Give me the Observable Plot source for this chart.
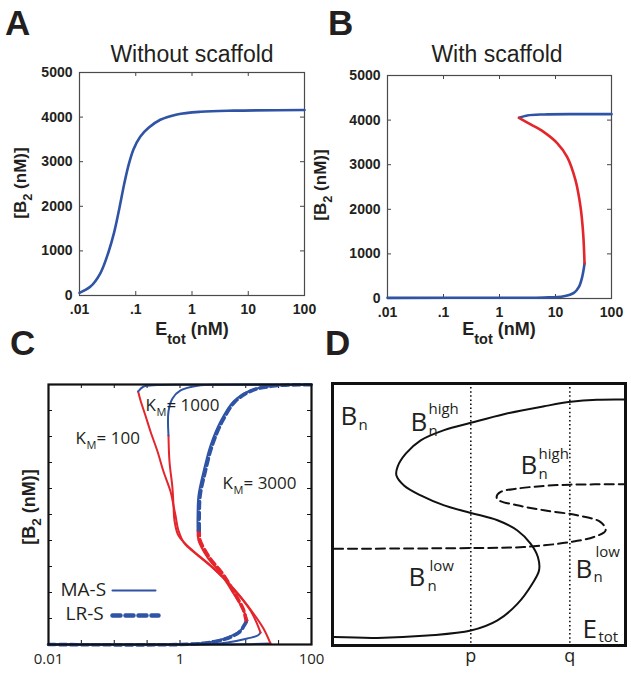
<!DOCTYPE html>
<html><head><meta charset="utf-8">
<script src="https://cdn.jsdelivr.net/npm/d3@7"></script>
<script src="https://cdn.jsdelivr.net/npm/@observablehq/plot@0.6"></script>
<style>
html,body{margin:0;padding:0;background:#fff;}
#root{position:relative;width:631px;height:676px;overflow:hidden;background:#fff;}
.panel{position:absolute;}
#overlay{position:absolute;left:0;top:0;pointer-events:none;}
</style></head><body><div id="root"></div>
<script>
// ---------- Panel A: without scaffold ----------
const aEtot = [0.01, 0.0155, 0.0233, 0.0328, 0.0414, 0.0515, 0.0623, 0.0755, 0.0914, 0.120, 0.169, 0.273, 0.541, 1.41, 5.52, 100];
const aB2   = [60, 194, 492, 976, 1420, 1975, 2500, 2950, 3280, 3560, 3760, 3940, 4060, 4120, 4145, 4158];
const abXTicks = [0.01, 0.1, 1, 10, 100];
const abXLabels = [".01", ".1", "1", "10", "100"];
const abYTicks = [0, 1000, 2000, 3000, 4000, 5000];

// ---------- Panel B: with scaffold ----------
const bLowE  = [0.01, 1, 6.21, 14.1, 21.3, 26.2, 30.0, 33.0];
const bLowB  = [15, 18, 22, 52, 127, 261, 485, 784];
const bMidE  = [33.0, 31.2, 28.0, 22.8, 16.2, 10.7, 6.21, 3.60, 2.23];
const bMidB  = [784, 1455, 2052, 2649, 3172, 3485, 3731, 3903, 4052];
const bHighE = [2.23, 3.13, 6.21, 24.4, 100];
const bHighB = [4052, 4104, 4127, 4134, 4134];

// ---------- Panel C: K_M dependence ----------
const c100LowE  = [0.01, 1, 10, 23.8];
const c100LowB  = [0, 0, 5, 19];
const c100MidE  = [23.8, 18.6, 13.1, 6.51, 3.23, 1.72, 1.17, 0.948, 0.855, 0.796, 0.718, 0.561, 0.455, 0.356, 0.298, 0.251, 0.231];
const c100MidB  = [19, 308, 596, 1077, 1462, 1750, 1942, 2192, 2481, 2673, 2942, 3327, 3711, 4096, 4404, 4692, 4865];
const c100HighE = [0.231, 0.279, 0.455, 2, 100];
const c100HighB = [4865, 4961, 4990, 4995, 4995];

const c1000LowE  = [0.01, 1, 3, 5.28, 10.6, 15.2, 16.8];
const c1000LowB  = [0, 0, 8, 38, 115, 173, 230];
const c1000MidE  = [16.8, 11.8, 5.86, 2.91, 1.44, 0.948, 0.824, 0.796, 0.769, 0.692, 0.668];
const c1000MidB  = [230, 654, 1135, 1519, 1846, 2096, 2385, 2673, 3000, 3519, 4019];
const c1000HighE = [0.668, 0.668, 0.769, 1.02, 1.85, 4.59, 100];
const c1000HighB = [4019, 4481, 4731, 4885, 4975, 4995, 4995];

const c3000LowE  = [0.01, 1, 2.62, 5.28, 8.32, 9.91, 10.6];
const c3000LowB  = [0, 0, 38, 135, 269, 404, 462];
const c3000MidE  = [10.6, 9.25, 6.51, 4.13, 2.62, 1.91, 1.85];
const c3000MidB  = [462, 654, 981, 1365, 1673, 2000, 2192];
const c3000HighE = [1.85, 1.85, 1.91, 2.28, 2.91, 4.13, 6.51, 11.8, 26.4, 86.9, 100];
const c3000HighB = [2192, 2481, 2865, 3327, 3827, 4288, 4673, 4885, 4975, 4995, 4995];

const lr3000LowE  = [0.01, 1, 2.5, 5, 8, 9.6, 10.2];
const lr3000LowB  = [0, 0, 30, 110, 240, 380, 440];
const lr3000MidE  = [10.2, 9.3, 6.8, 4.4, 2.8, 2.02, 1.96];
const lr3000MidB  = [440, 654, 981, 1365, 1673, 2000, 2192];
const lr3000HighE = [1.96, 1.96, 2.02, 2.42, 3.08, 4.38, 6.9, 12.5, 28, 90, 100];
const lr3000HighB = [2192, 2481, 2865, 3327, 3827, 4288, 4673, 4885, 4975, 4995, 4995];

const cXTicks = [0.01, 0.0316, 0.1, 0.316, 1, 3.16, 10, 31.6, 100];
const cXLabelTicks = [0.01, 1, 100];
const cXLabels = ["0.01", "1", "100"];
const cYTicks = [500, 1000, 1500, 2000, 2500, 3000, 3500, 4000, 4500];
const legendSolidE = [0.094, 0.424];
const legendSolidB = [1038, 1038];
const legendDashE  = [0.094, 0.471];
const legendDashB  = [558, 558];

// ---------- Panel D: schematic ----------
const dSolidX = [0.57, 15.3, 32.4, 47.2, 56.3, 63.1, 68.2, 70.5, 70.1, 67.6, 63.1, 56.3, 47.2, 38.1, 30.1, 24.4, 21.8, 22.2, 25.0, 30.1, 38.1, 47.2, 58.5, 72.2, 81.3, 90.3, 99.4];
const dSolidY = [3.2, 2.9, 3.8, 5.7, 9.6, 15.9, 23.6, 28.7, 33.8, 38.9, 43.9, 47.8, 50.6, 53.5, 57.3, 61.1, 65.0, 68.2, 73.2, 78.3, 82.2, 85.0, 88.3, 91.3, 93.0, 93.8, 93.9];
const dDashX = [0.57, 47.2, 65.3, 81.3, 89.2, 93.2, 91.5, 83.5, 72.2, 63.1, 56.8, 56.0, 57.4, 63.1, 72.2, 81.3, 99.4];
const dDashY = [36.9, 37.2, 37.6, 39.5, 41.4, 43.9, 47.1, 49.7, 51.6, 53.5, 55.4, 56.7, 58.6, 59.9, 60.9, 61.4, 61.5];
const dMarks = [47.2, 81.0];
const dMarkLabels = ["p", "q"];

// ---------- helpers ----------
const blue = "#2f53a5", red = "#e4252c";
const sansB = "'Liberation Sans', Arial, Helvetica, sans-serif";
const humanist = "'Open Sans', 'Noto Sans', sans-serif";
const pts = (xs, ys) => xs.map((x, i) => ({x, y: ys[i]}));
const root = document.getElementById("root");
function place(svg, left, top) {
  svg.classList.add("panel");
  svg.style.left = left + "px";
  svg.style.top = top + "px";
  root.appendChild(svg);
}
const labelOf = (ticks, labels) => { const m = new Map(ticks.map((t, i) => [t, labels[i]])); return d => m.get(d); };

function inwardTicks(xt, yt, innerW, innerH, len, color, sw) {
  return [
    Plot.ruleX(xt, {x: d => d, insetTop: innerH - len, stroke: color, strokeWidth: sw}),
    Plot.ruleX(xt, {x: d => d, insetBottom: innerH - len, stroke: color, strokeWidth: sw}),
    Plot.ruleY(yt, {y: d => d, insetRight: innerW - len, stroke: color, strokeWidth: sw}),
    Plot.ruleY(yt, {y: d => d, insetLeft: innerW - len, stroke: color, strokeWidth: sw})
  ];
}

// ---------- Panel A ----------
{
  const W = 320, H = 290, mL = 79, mR = 16, mT = 12, mB = 55;
  const svg = Plot.plot({
    width: W, height: H, marginLeft: mL, marginRight: mR, marginTop: mT, marginBottom: mB,
    x: {type: "log", domain: [0.01, 100]},
    y: {domain: [0, 5000]},
    style: {background: "transparent", fontFamily: sansB, overflow: "visible", color: "#231f20"},
    marks: [
      ...inwardTicks(abXTicks.slice(1, -1), abYTicks.slice(1, -1), W - mL - mR, H - mT - mB, 4, "#444", 1),
      Plot.frame({stroke: "#4a4a4a", strokeWidth: 1.2}),
      Plot.line(pts(aEtot, aB2), {x: "x", y: "y", stroke: blue, strokeWidth: 2.6, curve: "catmull-rom"}),
      Plot.axisX(abXTicks, {tickSize: 0, tickPadding: 9, fontSize: 14, fontWeight: "bold", tickFormat: labelOf(abXTicks, abXLabels), label: null}),
      Plot.axisY(abYTicks, {tickSize: 0, tickPadding: 7, fontSize: 14, fontWeight: "bold", tickFormat: d => String(d), label: null})
    ]
  });
  place(svg, 0, 60);
}

// ---------- Panel B ----------
{
  const W = 316, H = 290, mL = 72, mR = 20, mT = 15, mB = 52;
  const svg = Plot.plot({
    width: W, height: H, marginLeft: mL, marginRight: mR, marginTop: mT, marginBottom: mB,
    x: {type: "log", domain: [0.01, 100]},
    y: {domain: [0, 5000]},
    style: {background: "transparent", fontFamily: sansB, overflow: "visible", color: "#231f20"},
    marks: [
      ...inwardTicks(abXTicks.slice(1, -1), abYTicks.slice(1, -1), W - mL - mR, H - mT - mB, 4, "#444", 1),
      Plot.frame({stroke: "#4a4a4a", strokeWidth: 1.2}),
      Plot.line(pts(bLowE, bLowB), {x: "x", y: "y", stroke: blue, strokeWidth: 2.6, curve: "catmull-rom"}),
      Plot.line(pts(bHighE, bHighB), {x: "x", y: "y", stroke: blue, strokeWidth: 2.6, curve: "catmull-rom"}),
      Plot.line(pts(bMidE, bMidB), {x: "x", y: "y", stroke: red, strokeWidth: 2.6, curve: "catmull-rom"}),
      Plot.axisX(abXTicks, {tickSize: 0, tickPadding: 9, fontSize: 14, fontWeight: "bold", tickFormat: labelOf(abXTicks, abXLabels), label: null}),
      Plot.axisY(abYTicks, {tickSize: 0, tickPadding: 7, fontSize: 14, fontWeight: "bold", tickFormat: d => String(d), label: null})
    ]
  });
  place(svg, 315, 60);
}

// ---------- Panel C ----------
{
  const W = 330, H = 306, mL = 48, mR = 19, mT = 14, mB = 32;
  const solid = (xs, ys, c) => Plot.line(pts(xs, ys), {x: "x", y: "y", stroke: c, strokeWidth: 2, curve: "catmull-rom"});
  const dashed = (xs, ys, c) => Plot.line(pts(xs, ys), {x: "x", y: "y", stroke: c, strokeWidth: 3.6, strokeDasharray: "7,4", curve: "catmull-rom"});
  const t = (s, x, y, size, dx, dy) => Plot.text([s], {x, y, text: d => d, fontSize: size, fontFamily: humanist, textAnchor: "start", lineAnchor: "bottom", dx, dy, fill: "#231f20"});
  const svg = Plot.plot({
    width: W, height: H, marginLeft: mL, marginRight: mR, marginTop: mT, marginBottom: mB,
    x: {type: "log", domain: [0.01, 100]},
    y: {domain: [0, 5000], axis: null},
    style: {background: "transparent", fontFamily: humanist, overflow: "visible", color: "#231f20"},
    marks: [
      ...inwardTicks(cXTicks.slice(1, -1), cYTicks, W - mL - mR, H - mT - mB, 4, "#111", 1),
      dashed(lr3000LowE, lr3000LowB, blue),
      dashed(lr3000MidE, lr3000MidB, red),
      dashed(lr3000HighE, lr3000HighB, blue),
      solid(c3000LowE, c3000LowB, blue),
      solid(c3000MidE, c3000MidB, red),
      solid(c3000HighE, c3000HighB, blue),
      solid(c1000LowE, c1000LowB, blue),
      solid(c1000MidE, c1000MidB, red),
      solid(c1000HighE, c1000HighB, blue),
      solid(c100LowE, c100LowB, blue),
      solid(c100MidE, c100MidB, red),
      solid(c100HighE, c100HighB, blue),
      Plot.frame({stroke: "#111", strokeWidth: 2.2}),
      // K_M labels
      t("K", 0.298, 4500, 17, 0, 0), t("M", 0.298, 4500, 11, 11, 5), t("= 1000", 0.298, 4500, 17, 21, 0),
      t("K", 0.0258, 3865, 17, 0, 0), t("M", 0.0258, 3865, 11, 11, 5), t("= 100", 0.0258, 3865, 17, 21, 0),
      t("K", 4.43, 3000, 17, 0, 0), t("M", 4.43, 3000, 11, 11, 5), t("= 3000", 4.43, 3000, 17, 21, 0),
      // legend
      t("MA-S", 0.0152, 942, 19, 0, 0),
      t("LR-S", 0.0182, 462, 19, 0, 0),
      Plot.line(pts(legendSolidE, legendSolidB), {x: "x", y: "y", stroke: blue, strokeWidth: 2}),
      Plot.line(pts(legendDashE, legendDashB), {x: "x", y: "y", stroke: blue, strokeWidth: 4.5, strokeDasharray: "8,5"}),
      Plot.axisX(cXLabelTicks, {tickSize: 0, tickPadding: 9, fontSize: 15, tickFormat: labelOf(cXLabelTicks, cXLabels), label: null})
    ]
  });
  place(svg, 0, 370);
}

// ---------- Panel D ----------
{
  const W = 311, H = 306, mL = 12, mR = 6, mT = 13, mB = 31;
  const t = (s, x, y, size, dx, dy) => Plot.text([s], {x, y, text: d => d, fontSize: size, fontFamily: humanist, textAnchor: "start", lineAnchor: "bottom", dx, dy, fill: "#231f20"});
  const svg = Plot.plot({
    width: W, height: H, marginLeft: mL, marginRight: mR, marginTop: mT, marginBottom: mB,
    x: {domain: [0, 100]},
    y: {domain: [0, 100], axis: null},
    style: {background: "transparent", fontFamily: humanist, overflow: "visible", color: "#231f20"},
    marks: [
      Plot.ruleX(dMarks, {x: d => d, stroke: "#111", strokeWidth: 1.6, strokeDasharray: "1.5,2.6"}),
      Plot.line(pts(dSolidX, dSolidY), {x: "x", y: "y", stroke: "#111", strokeWidth: 2, curve: "catmull-rom"}),
      Plot.line(pts(dDashX, dDashY), {x: "x", y: "y", stroke: "#111", strokeWidth: 2, strokeDasharray: "9,5", curve: "catmull-rom"}),
      Plot.frame({stroke: "#111", strokeWidth: 3}),
      t("B", 2.7, 84.0, 26, 0, 0), t("n", 2.7, 84.0, 15, 18, 5),
      t("B", 26.6, 81.7, 26, 0, 0), t("high", 26.6, 81.7, 15, 18, -17), t("n", 26.6, 81.7, 15, 18, 5),
      t("B", 64.2, 65.6, 26, 0, 0), t("high", 64.2, 65.6, 15, 18, -15), t("n", 64.2, 65.6, 15, 18, 5),
      t("B", 25.9, 22.9, 26, 0, 0), t("low", 25.9, 22.9, 15, 21, -15), t("n", 25.9, 22.9, 15, 19, 5),
      t("B", 82.9, 25.6, 26, 0, 0), t("low", 82.9, 25.6, 15, 20, -21), t("n", 82.9, 25.6, 15, 18, 4),
      t("E", 85.3, 2.7, 26, 0, 0), t("tot", 85.3, 2.7, 15, 16, 4),
      Plot.axisX(dMarks, {tickSize: 0, tickPadding: 4, fontSize: 18, tickFormat: labelOf(dMarks, dMarkLabels), label: null})
    ]
  });
  place(svg, 320, 370);
}

// ---------- overlay: panel letters, titles, axis labels ----------
{
  const svg = d3.create("svg").attr("id", "overlay").attr("width", 631).attr("height", 676)
    .attr("font-family", sansB).attr("fill", "#231f20");
  const letter = (s, x, y) => svg.append("text").attr("x", x).attr("y", y).attr("font-size", 35).attr("font-weight", "bold").text(s);
  letter("A", 5, 35); letter("B", 328, 35); letter("C", 10, 355); letter("D", 325, 355);
  const title = (s, x, y) => svg.append("text").attr("x", x).attr("y", y).attr("font-size", 23).attr("text-anchor", "middle").text(s);
  title("Without scaffold", 192, 62); title("With scaffold", 497, 62);
  function rich(g, parts, size, subScale, subShift) {
    let shift = 0;
    for (const p of parts) {
      const target = p.sub ? subShift : 0;
      g.append("tspan").attr("dy", target - shift).attr("font-size", p.sub ? size * subScale : size).text(p.t);
      shift = target;
    }
  }
  const xlab = (cx, y) => {
    const g = svg.append("text").attr("x", cx).attr("y", y).attr("text-anchor", "middle").attr("font-weight", "bold");
    rich(g, [{t: "E"}, {t: "tot", sub: true}, {t: " (nM)"}], 18, 0.8, 9);
  };
  xlab(192, 335); xlab(499, 335);
  const ylab = (x, cy, size) => {
    const g = svg.append("text").attr("transform", `translate(${x},${cy}) rotate(-90)`).attr("text-anchor", "middle").attr("font-weight", "bold");
    rich(g, [{t: "[B"}, {t: "2", sub: true}, {t: " (nM)]"}], size, 0.75, 6);
  };
  ylab(26, 183, 17); ylab(326, 185, 17); ylab(35, 507, 18);
  root.appendChild(svg.node());
}
</script></body></html>
